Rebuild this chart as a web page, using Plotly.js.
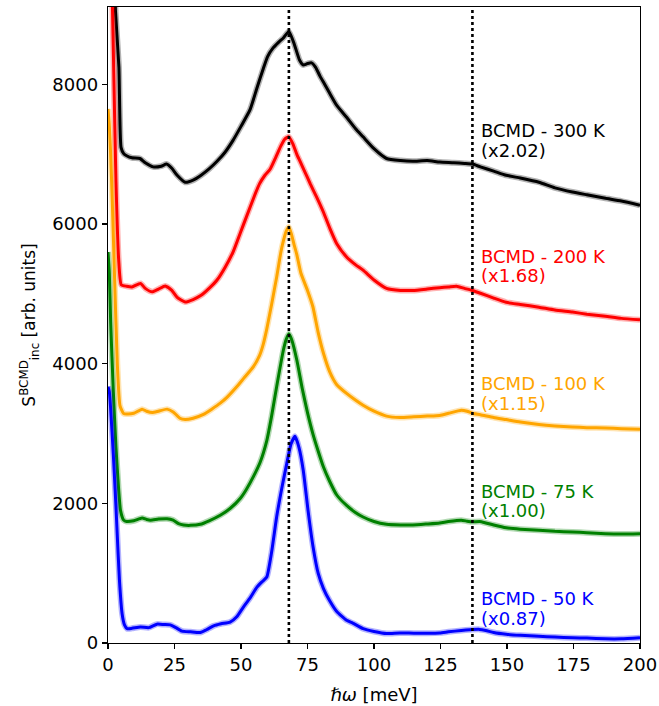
<!DOCTYPE html>
<html>
<head>
<meta charset="utf-8">
<script src="https://cdn.plot.ly/plotly-3.0.1.min.js"></script>
<style>html,body{margin:0;padding:0;background:#fff;}#chart{width:659px;height:706px;}</style>
</head>
<body>
<div id="chart"></div>
<script>
// ---- data ----
const x300 = [0,1,2,2.8,4.1,4.9,5.9,7,9,12,14,17,20,22,24,26,29,32,35,38,41,44,47,50,53.4,56,58.4,60,62,64,66,68,70,72,73.4,75,76.5,78,79.7,81.5,83.4,86,89.7,93,95.9,100,104.7,110,114.6,120,124.7,130,134,137,140,145,149.7,155,162,168,174.6,180,187,193,200];
const y300 = [13500,12000,10200,9060,8250,7100,7010,6980,6950,6940,6880,6820,6830,6860,6800,6700,6600,6630,6700,6790,6900,7030,7200,7400,7640,7950,8230,8400,8520,8600,8670,8760,8580,8350,8280,8300,8310,8250,8120,8000,7870,7700,7530,7370,7250,7080,6940,6910,6900,6910,6890,6880,6870,6860,6820,6760,6700,6660,6600,6520,6460,6420,6370,6330,6270];

const x200 = [0,1,2,3,4,5,7,9,12.2,14,16.6,19,21.5,24,26,29,32,35,38,41,44,47,49.7,52,55,57,59,61,63,65,66.5,68,69.5,71,72,74,76,78.4,81,83.4,86,89.7,93,95.9,100,104.7,110,114.6,120,124.7,128,131,134,137,140,145,149.7,155,162,168,174.6,180,187,193,200];
const y200 = [11800,10300,8500,6600,5500,5130,5110,5100,5150,5080,5030,5070,5115,5050,4950,4885,4920,4980,5080,5200,5380,5600,5870,6100,6400,6580,6700,6790,6950,7120,7220,7250,7150,7000,6915,6750,6580,6390,6170,5940,5720,5530,5420,5340,5200,5080,5050,5050,5070,5090,5100,5110,5080,5050,5010,4940,4880,4850,4810,4770,4740,4710,4680,4650,4630];

const x100 = [0,0.5,1,1.6,2.5,3.5,4.5,5.8,7,9.7,12.8,14.5,16.6,19,22.2,24.5,27,29,32,35.9,39,42.2,45,48.4,51,54.6,57,58.3,59.7,61.5,63.4,65,66,67,68,69,70,71,72.5,75,77,79,81,83.4,86,89.7,93,95.9,100,104.7,109.7,115,120,124.7,128,132.8,135,137,140,145,149.7,155,162,168,174.6,180,187,193,200];
const y100 = [7650,7400,7000,6340,5200,4000,3400,3290,3280,3290,3350,3320,3300,3320,3350,3310,3220,3200,3220,3275,3350,3435,3530,3670,3790,3955,4120,4270,4500,4850,5240,5600,5770,5900,5960,5850,5700,5560,5300,5050,4820,4450,4150,3880,3700,3575,3480,3405,3320,3250,3230,3240,3250,3260,3290,3335,3320,3290,3270,3230,3200,3165,3130,3110,3095,3085,3080,3070,3060];

const x75 = [0,0.5,1,2,3,4,4.7,5.9,7,9.7,12.8,14.5,16,19,22.2,24.5,26.5,28.4,31,34.7,38,42.2,46,49.7,52,54.6,57.2,59.7,61.5,63.4,65.9,67,68,69,71,73,75,77,79,81,83.4,86,89.7,93,95.9,100,104.7,110,114.6,120,124.7,128,132.8,135,137,139.7,142,145,149.7,155,162,168,174.6,180,187,193,200];
const y75 = [5600,5300,4600,3600,2800,2200,1900,1760,1740,1750,1790,1770,1760,1775,1780,1760,1710,1690,1685,1700,1750,1830,1930,2070,2200,2380,2590,2900,3250,3670,4190,4350,4430,4350,4050,3650,3300,3000,2750,2520,2310,2120,1970,1870,1805,1740,1700,1690,1690,1705,1720,1740,1760,1745,1735,1740,1720,1690,1650,1630,1615,1600,1590,1580,1565,1560,1565];

const x50 = [0,0.5,1,2,3,3.4,4.3,5.3,6.2,7.2,9,12.2,15.3,18.4,21,23.4,25.5,27.8,31,34.7,37,39.7,42.5,45.9,48.5,50.9,53.5,56,58,59.7,61.5,63.4,65.5,67.2,68.8,70.3,71.8,73.4,75.2,77.1,79,81,83.4,86,89.7,92,95.9,100,104.7,109.7,115,120,124.7,128,132.8,136,139.7,142,145,149.7,155,162,168,174.6,180,187,193,200];
const y50 = [3670,3600,3350,2700,1950,1615,900,420,260,205,210,230,220,270,265,260,220,170,160,150,190,245,275,300,380,515,650,800,880,945,1300,1805,2250,2570,2850,2960,2800,2475,1900,1375,1000,780,600,450,325,285,205,165,135,145,140,140,145,160,180,190,195,180,150,125,110,95,85,75,70,60,60,75];

const seriesNames = ['BCMD - 300 K','BCMD - 200 K','BCMD - 100 K','BCMD - 75 K','BCMD - 50 K'];
const scaleLabels = ['(x2.02)','(x1.68)','(x1.15)','(x1.00)','(x0.87)'];
const seriesColors = ['#000000','#ff0000','#ffa500','#008000','#0000ff'];
const refLines = [68, 137];
const xTicks = [0,25,50,75,100,125,150,175,200];
const yTicks = [0,2000,4000,6000,8000];
// label anchor positions (data units)
const labelX = 139.6;
const labelY1 = [7345,5540,3716,2163,636];
const labelY2 = [7059,5268,3430,1901,350];

const xs = [x300,x200,x100,x75,x50];
const ys = [y300,y200,y100,y75,y50];

const traces = [];
for (let i = 0; i < xs.length; i++) {
  traces.push({x: xs[i], y: ys[i], type: 'scatter', mode: 'lines', showlegend: false, hoverinfo: 'skip',
    line: {color: seriesColors[i], width: 6, shape: 'spline', smoothing: 0.5}, opacity: 0.3});
  traces.push({x: xs[i], y: ys[i], type: 'scatter', mode: 'lines', name: seriesNames[i], showlegend: false,
    line: {color: seriesColors[i], width: 3, shape: 'spline', smoothing: 0.5}});
}

const annotations = [];
for (let i = 0; i < seriesNames.length; i++) {
  annotations.push({x: labelX, y: labelY1[i], xref: 'x', yref: 'y', text: seriesNames[i], showarrow: false,
    xanchor: 'left', yanchor: 'middle', font: {family: 'DejaVu Sans', size: 18, color: seriesColors[i]}});
  annotations.push({x: labelX, y: labelY2[i], xref: 'x', yref: 'y', text: scaleLabels[i], showarrow: false,
    xanchor: 'left', yanchor: 'middle', font: {family: 'DejaVu Sans', size: 18, color: seriesColors[i]}});
}

const shapes = refLines.map(v => ({type: 'line', xref: 'x', yref: 'paper', x0: v, x1: v, y0: 0, y1: 1,
  line: {color: '#000', width: 2.6, dash: 'dot'}, layer: 'above'}));

const layout = {
  width: 659, height: 706,
  margin: {l: 108, r: 19, t: 7, b: 63},
  paper_bgcolor: '#fff', plot_bgcolor: '#fff',
  font: {family: 'DejaVu Sans', size: 18, color: '#000'},
  showlegend: false,
  xaxis: {range: [0, 200], tickvals: xTicks, ticktext: xTicks.map(String), ticks: 'outside', ticklen: 5, tickwidth: 1.3,
    tickcolor: '#000', showline: true, linecolor: '#000', linewidth: 1.3, mirror: true, showgrid: false, zeroline: false,
    tickfont: {size: 18}, automargin: false,
    title: {text: 'ℏ<i>ω</i> [meV]', font: {size: 18}, standoff: 14}},
  yaxis: {range: [0, 9110], tickvals: yTicks, ticktext: yTicks.map(String), ticks: 'outside', ticklen: 5, tickwidth: 1.3,
    tickcolor: '#000', showline: true, linecolor: '#000', linewidth: 1.3, mirror: true, showgrid: false, zeroline: false,
    tickfont: {size: 18}, automargin: false,
    title: {text: 'S<sup>BCMD</sup><sub>inc</sub> [arb. units]', font: {size: 17}, standoff: 12}},
  shapes: shapes,
  annotations: annotations
};

Plotly.newPlot('chart', traces, layout, {displayModeBar: false, staticPlot: true});
</script>
</body>
</html>
